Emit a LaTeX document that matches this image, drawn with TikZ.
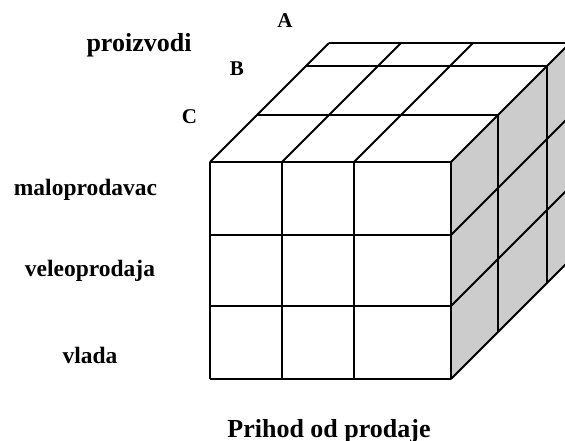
\documentclass[tikz,border=0pt]{standalone}
\usepackage{fontspec}
\setmainfont{Liberation Serif}
\definecolor{sidegray}{RGB}{204,204,204}
\tikzset{
  edge/.style={line width=1.9pt, line join=miter, black},
  lab/.style={inner sep=0pt, anchor=base, font=\bfseries\fontsize{23.5}{28}\selectfont},
  biglab/.style={inner sep=0pt, anchor=base, font=\bfseries\fontsize{26}{31}\selectfont},
  letlab/.style={inner sep=0pt, anchor=base, font=\bfseries\fontsize{21}{25}\selectfont}
}
\begin{document}
\begin{tikzpicture}[x=1pt,y=-1pt]
\useasboundingbox (0,0) rectangle (565,440);
\begin{scope}
\clip (0,0) rectangle (565,440);
% right face
\fill[sidegray] (451,162) -- (570,43) -- (570,260) -- (451,379) -- cycle;
% front face grid
\foreach \x in {210,282,354,451} \draw[edge] (\x,162) -- (\x,379);
\foreach \y in {162,235,306,379} \draw[edge] (210,\y) -- (451,\y);
% top face
\foreach \d in {47,96,119} \draw[edge] ({210+\d},{162-\d}) -- ({451+\d},{162-\d});
\foreach \x in {210,282,354,451} \draw[edge] (\x,162) -- ({\x+119},43);
% right face
\foreach \d in {47,96,119} \draw[edge] ({451+\d},{162-\d}) -- ({451+\d},{379-\d});
\foreach \y in {235,306,379} \draw[edge] (451,\y) -- (570,{\y-119});
\end{scope}
% labels
\node[letlab] (la) at (285,27) {A};
\node[biglab] (lp) at (139,51) {proizvodi};
\node[letlab] (lb) at (237,75) {B};
\node[letlab] (lc) at (189.5,123) {C};
\node[lab] (lm) at (85.5,195) {maloprodavac};
\node[lab] (lv) at (90,276) {veleoprodaja};
\node[lab] (lvl) at (90,363) {vlada};
\node[biglab] (lpr) at (329,437) {Prihod od prodaje};
\end{tikzpicture}
\end{document}
